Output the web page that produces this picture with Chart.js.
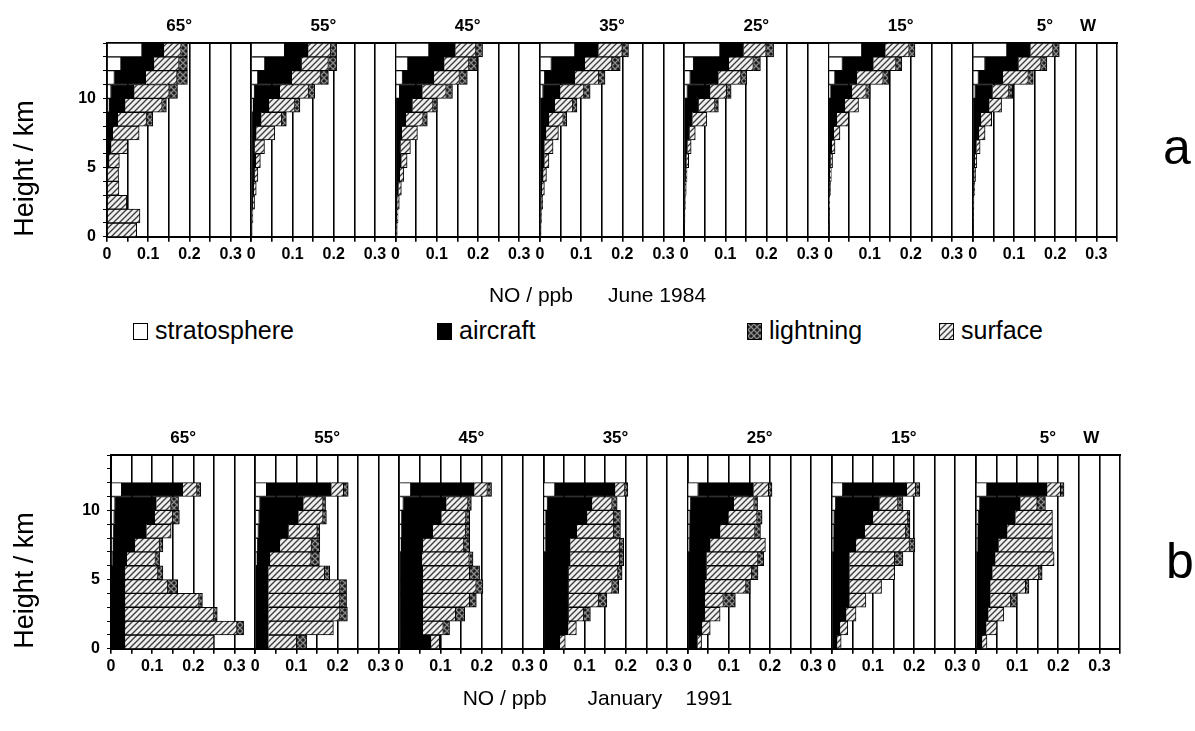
<!DOCTYPE html>
<html>
<head>
<meta charset="utf-8">
<script src="https://cdn.jsdelivr.net/npm/chart.js@4.4.1/dist/chart.umd.min.js"></script>
<style>
  body { margin: 0; background: #fff; width: 1195px; height: 731px; position: relative; overflow: hidden;
         font-family: "Liberation Sans", Arial, sans-serif; color: #000; }
  canvas { position: absolute; left: 0; }
  #cTop { top: 0; }
  #cBot { top: 400px; }
  .lab { position: absolute; font-size: 50px; line-height: 1; }
  .leg { position: absolute; top: 315px; font-size: 25px; line-height: 30px; white-space: nowrap; }
  .sw { display: inline-block; width: 13px; height: 15px; border: 1px solid #000; vertical-align: -1px; margin-right: 7px; }
</style>
</head>
<body>
<canvas id="cTop" width="1195" height="315"></canvas>
<canvas id="cBot" width="1195" height="331"></canvas>
<div class="lab" style="left:1163px;top:122px">a</div>
<div class="lab" style="left:1166px;top:536px">b</div>
<div class="leg" style="left:133px"><span class="sw" id="swStrat"></span>stratosphere</div>
<div class="leg" style="left:437px"><span class="sw" id="swAir"></span>aircraft</div>
<div class="leg" style="left:747px"><span class="sw" id="swLtng"></span>lightning</div>
<div class="leg" style="left:939px"><span class="sw" id="swSurf"></span>surface</div>
<script>
// panel titles and axis ticks
const latitudes = ['65°', '55°', '45°', '35°', '25°', '15°', '5°'];
const juneLevels = [0.5, 1.5, 2.5, 3.5, 4.5, 5.5, 6.5, 7.5, 8.5, 9.5, 10.5, 11.5, 12.5, 13.5];
const janLevels = [0.5, 1.5, 2.5, 3.5, 4.5, 5.5, 6.5, 7.5, 8.5, 9.5, 10.5, 11.5];
const kmTicks = [0, 1, 2, 3, 4, 5, 6, 7, 8, 9, 10, 11, 12, 13, 14];
const yTickLabels = [0, 5, 10];
const xGrid = [0, 0.05, 0.1, 0.15, 0.2, 0.25, 0.3, 0.35];
const xTickText = ['0', '', '0.1', '', '0.2', '', '0.3', ''];

// June 1984, NO (ppb) per 1 km level from the ground up, one row per latitude
const juneStrat = [
  [0, 0, 0, 0, 0, 0, 0, 0, 0, 0.005, 0.01, 0.018, 0.034, 0.085],
  [0, 0, 0, 0, 0, 0, 0, 0, 0, 0.004, 0.008, 0.016, 0.033, 0.081],
  [0, 0, 0, 0, 0, 0, 0, 0, 0, 0, 0.01, 0.017, 0.03, 0.081],
  [0, 0, 0, 0, 0, 0, 0, 0, 0, 0, 0.008, 0.012, 0.028, 0.085],
  [0, 0, 0, 0, 0, 0, 0, 0, 0, 0, 0.008, 0.015, 0.023, 0.087],
  [0, 0, 0, 0, 0, 0, 0, 0, 0, 0, 0.006, 0.016, 0.034, 0.081],
  [0, 0, 0, 0, 0, 0, 0, 0, 0, 0, 0.006, 0.014, 0.03, 0.083]
];
const juneAircraft = [
  [0, 0, 0, 0, 0, 0.005, 0.01, 0.014, 0.026, 0.039, 0.056, 0.076, 0.08, 0.053],
  [0.001, 0.002, 0.004, 0.006, 0.008, 0.011, 0.008, 0.012, 0.024, 0.039, 0.061, 0.082, 0.089, 0.057],
  [0.002, 0.003, 0.004, 0.007, 0.01, 0.014, 0.012, 0.015, 0.025, 0.041, 0.055, 0.076, 0.088, 0.064],
  [0.0015, 0.002, 0.0035, 0.005, 0.008, 0.011, 0.011, 0.015, 0.022, 0.036, 0.041, 0.073, 0.081, 0.057],
  [0.0005, 0.001, 0.0015, 0.0025, 0.0035, 0.0055, 0.008, 0.013, 0.02, 0.035, 0.055, 0.068, 0.085, 0.057],
  [0.0005, 0.001, 0.0015, 0.0025, 0.0035, 0.005, 0.008, 0.013, 0.02, 0.04, 0.051, 0.053, 0.075, 0.057],
  [0.0005, 0.001, 0.0015, 0.0025, 0.0035, 0.005, 0.009, 0.015, 0.02, 0.04, 0.042, 0.059, 0.081, 0.057]
];
const juneSurface = [
  [0.072, 0.08, 0.048, 0.029, 0.028, 0.025, 0.04, 0.064, 0.07, 0.09, 0.085, 0.076, 0.061, 0.042],
  [0.001, 0.002, 0.004, 0.006, 0.008, 0.011, 0.024, 0.045, 0.05, 0.063, 0.07, 0.07, 0.065, 0.055],
  [0.002, 0.003, 0.005, 0.007, 0.01, 0.014, 0.024, 0.038, 0.042, 0.05, 0.058, 0.062, 0.06, 0.05],
  [0.0015, 0.002, 0.0035, 0.006, 0.008, 0.011, 0.021, 0.03, 0.035, 0.044, 0.058, 0.058, 0.066, 0.058],
  [0.0005, 0.001, 0.0015, 0.0025, 0.0035, 0.0055, 0.009, 0.014, 0.035, 0.04, 0.04, 0.055, 0.06, 0.055],
  [0.0005, 0.001, 0.0015, 0.0025, 0.0035, 0.005, 0.008, 0.015, 0.029, 0.033, 0.035, 0.064, 0.055, 0.058],
  [0.0005, 0.001, 0.0015, 0.0025, 0.0035, 0.005, 0.009, 0.015, 0.026, 0.03, 0.04, 0.062, 0.055, 0.055]
];
const juneLightning = [
  [0, 0, 0, 0, 0, 0, 0, 0, 0.015, 0.01, 0.02, 0.025, 0.02, 0.015],
  [0, 0, 0, 0, 0, 0, 0, 0, 0.011, 0.012, 0.015, 0.019, 0.02, 0.014],
  [0, 0, 0, 0, 0, 0, 0, 0, 0.01, 0.01, 0.015, 0.019, 0.02, 0.016],
  [0, 0, 0, 0, 0, 0, 0, 0, 0.008, 0.01, 0.015, 0.015, 0.02, 0.015],
  [0, 0, 0, 0, 0, 0, 0, 0, 0, 0.008, 0.011, 0.014, 0.017, 0.018],
  [0, 0, 0, 0, 0, 0, 0, 0, 0, 0, 0.009, 0.013, 0.014, 0.014],
  [0, 0, 0, 0, 0, 0, 0, 0, 0, 0, 0.009, 0.012, 0.014, 0.015]
];

// January 1991
const janStrat = [
  [0, 0, 0, 0, 0, 0, 0.003, 0.005, 0.006, 0.008, 0.01, 0.026],
  [0, 0, 0, 0, 0, 0, 0.004, 0.006, 0.008, 0.01, 0.012, 0.028],
  [0, 0, 0, 0, 0, 0, 0, 0.004, 0.006, 0.006, 0.01, 0.028],
  [0, 0, 0, 0, 0, 0, 0, 0.005, 0.005, 0.006, 0.01, 0.028],
  [0, 0, 0, 0, 0, 0, 0, 0.004, 0.005, 0.006, 0.008, 0.026],
  [0, 0, 0, 0, 0, 0, 0, 0.004, 0.005, 0.006, 0.01, 0.027],
  [0, 0, 0, 0, 0, 0, 0, 0.004, 0.005, 0.006, 0.01, 0.027]
];
const janAircraft = [
  [0.034, 0.034, 0.034, 0.034, 0.034, 0.034, 0.035, 0.053, 0.08, 0.098, 0.1, 0.148],
  [0.032, 0.032, 0.032, 0.032, 0.032, 0.032, 0.032, 0.054, 0.073, 0.095, 0.105, 0.157],
  [0.077, 0.057, 0.057, 0.057, 0.057, 0.057, 0.055, 0.053, 0.075, 0.096, 0.104, 0.154],
  [0.04, 0.06, 0.061, 0.061, 0.061, 0.061, 0.065, 0.06, 0.076, 0.1, 0.108, 0.146],
  [0.024, 0.035, 0.042, 0.042, 0.042, 0.046, 0.046, 0.051, 0.074, 0.093, 0.104, 0.134],
  [0.013, 0.02, 0.035, 0.043, 0.043, 0.043, 0.043, 0.055, 0.075, 0.094, 0.106, 0.155],
  [0.015, 0.025, 0.03, 0.035, 0.035, 0.04, 0.047, 0.051, 0.071, 0.09, 0.098, 0.146]
];
const janSurface = [
  [0.216, 0.272, 0.216, 0.18, 0.104, 0.08, 0.07, 0.06, 0.06, 0.044, 0.036, 0.035],
  [0.069, 0.158, 0.174, 0.174, 0.174, 0.137, 0.1, 0.077, 0.07, 0.06, 0.048, 0.03],
  [0.021, 0.05, 0.08, 0.114, 0.13, 0.114, 0.115, 0.1, 0.08, 0.06, 0.053, 0.032],
  [0.013, 0.02, 0.037, 0.073, 0.106, 0.12, 0.12, 0.12, 0.09, 0.065, 0.049, 0.024],
  [0.01, 0.02, 0.037, 0.045, 0.1, 0.11, 0.125, 0.134, 0.085, 0.07, 0.05, 0.037],
  [0.01, 0.019, 0.024, 0.04, 0.078, 0.11, 0.11, 0.13, 0.1, 0.085, 0.045, 0.022],
  [0.012, 0.026, 0.038, 0.05, 0.086, 0.113, 0.143, 0.131, 0.11, 0.09, 0.041, 0.033]
];
const janLightning = [
  [0, 0.016, 0.008, 0.008, 0.024, 0.012, 0.01, 0.008, 0, 0.016, 0.018, 0.009],
  [0.024, 0, 0.018, 0.016, 0.016, 0.012, 0.02, 0.02, 0.006, 0.008, 0.006, 0.011],
  [0, 0.015, 0.022, 0.016, 0.016, 0.024, 0.009, 0.014, 0.01, 0.009, 0.008, 0.01],
  [0, 0, 0.016, 0.02, 0.016, 0.01, 0.01, 0.01, 0.016, 0.016, 0.012, 0.007],
  [0, 0, 0, 0.029, 0.01, 0.015, 0.014, 0, 0.013, 0.012, 0.008, 0.008],
  [0, 0, 0, 0, 0, 0, 0.02, 0.013, 0.01, 0.005, 0.012, 0.01],
  [0, 0, 0, 0.015, 0.008, 0.008, 0, 0, 0, 0, 0.02, 0.008]
];

Chart.defaults.font.family = '"Liberation Sans", Arial, sans-serif';
Chart.defaults.color = '#000';

// little tiles used as bar fills (hatching like the printed figure)
function makeTile(bg, fg, cross) {
  const c = document.createElement('canvas');
  c.width = 6; c.height = 6;
  const g = c.getContext('2d');
  g.fillStyle = bg;
  g.fillRect(0, 0, 6, 6);
  if (fg) {
    g.strokeStyle = fg;
    g.lineWidth = 1.3;
    g.beginPath();
    g.moveTo(-1, 7); g.lineTo(7, -1);
    g.moveTo(-4, 4); g.lineTo(4, -4);
    g.moveTo(2, 10); g.lineTo(10, 2);
    if (cross) {
      g.moveTo(-1, -1); g.lineTo(7, 7);
      g.moveTo(-4, 2); g.lineTo(4, 10);
      g.moveTo(2, -4); g.lineTo(10, 4);
    }
    g.stroke();
  }
  return c;
}
const surfTile = makeTile('#efefef', '#3a3a3a', false);
const ltngTile = makeTile('#1c1c1c', '#8a8a8a', true);
const tmp = document.createElement('canvas').getContext('2d');
const fills = {
  strat: '#ffffff',
  air: '#000000',
  surf: tmp.createPattern(surfTile, 'repeat'),
  ltng: tmp.createPattern(ltngTile, 'repeat')
};

document.getElementById('swStrat').style.background = '#fff';
document.getElementById('swAir').style.background = '#000';
document.getElementById('swLtng').style.backgroundImage = 'url(' + ltngTile.toDataURL() + ')';
document.getElementById('swSurf').style.backgroundImage = 'url(' + surfTile.toDataURL() + ')';

// latitude labels above each panel
const panelTitles = {
  id: 'panelTitles',
  afterDraw(chart, args, opts) {
    const ctx = chart.ctx;
    const y = chart.chartArea.top - opts.gap;
    ctx.save();
    ctx.font = 'bold 17px "Liberation Sans", Arial, sans-serif';
    ctx.fillStyle = '#000';
    ctx.textAlign = 'center';
    latitudes.forEach((t, i) => {
      ctx.fillText(t, chart.scales['x' + i].getPixelForValue(0.175), y);
    });
    ctx.fillText('W', chart.scales.x6.getPixelForValue(0.28), y);
    ctx.restore();
  }
};

function makeRow(canvasId, levels, strat, air, surf, ltng, left, right, top, title, titlePad) {
  const parts = [
    { label: 'stratosphere', values: strat, fill: fills.strat },
    { label: 'aircraft', values: air, fill: fills.air },
    { label: 'surface', values: surf, fill: fills.surf },
    { label: 'lightning', values: ltng, fill: fills.ltng }
  ];
  const datasets = [];
  const scales = {
    y: {
      type: 'linear', position: 'left', min: 0, max: 14, stacked: true, offset: false,
      afterBuildTicks: s => { s.ticks = kmTicks.map(v => ({ value: v })); },
      ticks: {
        autoSkip: false, padding: 7, font: { size: 16, weight: 'bold' },
        callback: v => yTickLabels.includes(v) ? String(v) : ''
      },
      grid: { drawOnChartArea: false, tickLength: 4, color: '#000', offset: false },
      border: { display: true, color: '#000', width: 2 },
      title: { display: true, text: 'Height / km', align: 'start', font: { size: 27 }, padding: { top: 9, bottom: 0 } },
      afterFit: s => { s.width = left; }
    },
    // empty box on the right so the bottom title is centred on the page
    yr: {
      type: 'linear', position: 'right', min: 0, max: 14,
      ticks: { display: false },
      grid: { display: false },
      border: { display: false },
      afterFit: s => { s.width = right; }
    },
    xt: {
      type: 'linear', position: 'top', min: 0, max: 1,
      ticks: { display: false },
      grid: { drawOnChartArea: false, drawTicks: false },
      border: { display: true, color: '#000', width: 2 },
      afterFit: s => { s.height = 0; }
    }
  };
  for (let p = 0; p < latitudes.length; p++) {
    parts.forEach(part => {
      datasets.push({
        label: part.label,
        data: part.values[p],
        xAxisID: 'x' + p,
        yAxisID: 'y',
        backgroundColor: part.fill,
        borderColor: '#000',
        borderWidth: 1,
        barPercentage: 1,
        categoryPercentage: 1
      });
    });
    scales['x' + p] = {
      type: 'linear', position: 'bottom', stack: 'panels', stackWeight: 1,
      min: 0, max: 0.35, stacked: true, offset: false,
      afterBuildTicks: s => { s.ticks = xGrid.map(v => ({ value: v })); },
      ticks: {
        autoSkip: false, maxRotation: 0, padding: 3, font: { size: 16, weight: 'bold' },
        callback: (v, i) => xTickText[i]
      },
      grid: { color: '#000', lineWidth: 1.6, tickLength: 5, offset: false },
      border: { display: true, color: '#000', width: 2 },
      afterFit: s => { s.height = 38; }
    };
  }
  return new Chart(document.getElementById(canvasId), {
    type: 'bar',
    data: { labels: levels, datasets: datasets },
    options: {
      indexAxis: 'y',
      responsive: false,
      animation: false,
      layout: { padding: { left: 0, right: 0, top: top, bottom: 0 } },
      scales: scales,
      plugins: {
        legend: { display: false },
        tooltip: { enabled: false },
        title: { display: true, position: 'bottom', text: title, font: { size: 21, weight: 'normal' }, padding: titlePad },
        panelTitles: { gap: 12 }
      }
    },
    plugins: [panelTitles]
  });
}

makeRow('cTop', juneLevels, juneStrat, juneAircraft, juneSurface, juneLightning,
  107, 78, 43, 'NO / ppb      June 1984', { top: 9, bottom: 6 });
makeRow('cBot', janLevels, janStrat, janAircraft, janSurface, janLightning,
  111, 75, 55, 'NO / ppb       January    1991', { top: 0, bottom: 19 });
</script>
</body>
</html>
